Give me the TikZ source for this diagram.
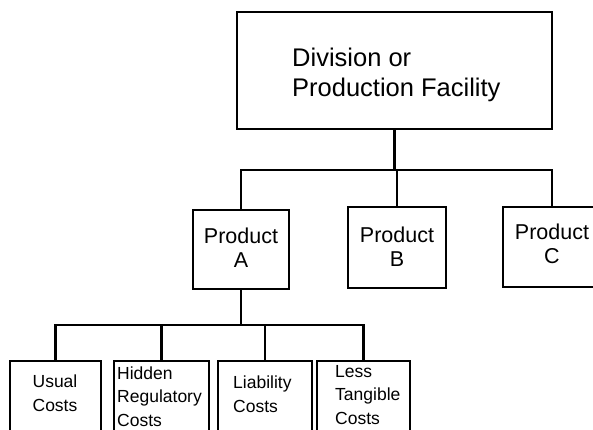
\documentclass[tikz,border=0pt]{standalone}
\usepackage{fontspec}
\setmainfont{Liberation Sans}
\begin{document}
\begin{tikzpicture}[x=1pt,y=-1pt,
  box/.style={draw, rectangle, line width=2pt, inner sep=0pt},
  conn/.style={line width=2.4pt},
  lbl/.style={inner sep=0pt, align=left, anchor=base west},
  clbl/.style={inner sep=0pt, align=center, anchor=base},
  bigfont/.style={font=\fontsize{25.5}{30}\selectfont},
  midfont/.style={font=\fontsize{21.5}{24}\selectfont},
  smallfont/.style={font=\fontsize{17.5}{23.5}\selectfont}]
\clip (0,0) rectangle (593,430);
\fill[white] (0,0) rectangle (593,430);
% boxes
\node[box, minimum width=315pt, minimum height=117pt] (top) at (394.5,70.5) {};
\node[box, minimum width=96pt, minimum height=79pt] (pa) at (241,249.5) {};
\node[box, minimum width=98pt, minimum height=81pt] (pb) at (397,247.5) {};
\node[box, minimum width=98pt, minimum height=80pt] (pc) at (552,247) {};
\node[box, minimum width=91pt, minimum height=84pt] (c1) at (55.5,402.5) {};
\node[box, minimum width=95pt, minimum height=84pt] (c2) at (161.5,403) {};
\node[box, minimum width=94pt, minimum height=84pt] (c3) at (265,403) {};
\node[box, minimum width=93pt, minimum height=84pt] (c4) at (363.5,403) {};
% labels (anchor = baseline of the last line)
\node[lbl, bigfont] (ttop) at (292,97) {Division or\\Production Facility};
\node[clbl, midfont] (tpa) at (241,267) {Product\\A};
\node[clbl, midfont] (tpb) at (397,266) {Product\\B};
\node[clbl, midfont] (tpc) at (552,263) {Product\\C};
\node[clbl, smallfont] (tc1) at (55,411) {Usual\\Costs};
\node[lbl, smallfont] (tc2) at (117,426) {Hidden\\Regulatory\\Costs};
\node[lbl, smallfont] (tc3) at (233,412) {Liability\\Costs};
\node[lbl, smallfont] (tc4) at (335,424) {Less\\Tangible\\Costs};
% connectors
\coordinate (bar1) at (394.5,170);
\coordinate (bar2) at (241,325);
\draw[conn] (top.south) -- (bar1);
\draw[conn] (pa.north) |- (bar1) -| (pc.north);
\draw[conn] (pb.north) -- (pb.north |- bar1);
\draw[conn] (pa.south) -- (bar2);
\draw[conn] (c1.north) |- (bar2) -| (c4.north);
\draw[conn] (c2.north) -- (c2.north |- bar2);
\draw[conn] (c3.north) -- (c3.north |- bar2);
\end{tikzpicture}
\end{document}
